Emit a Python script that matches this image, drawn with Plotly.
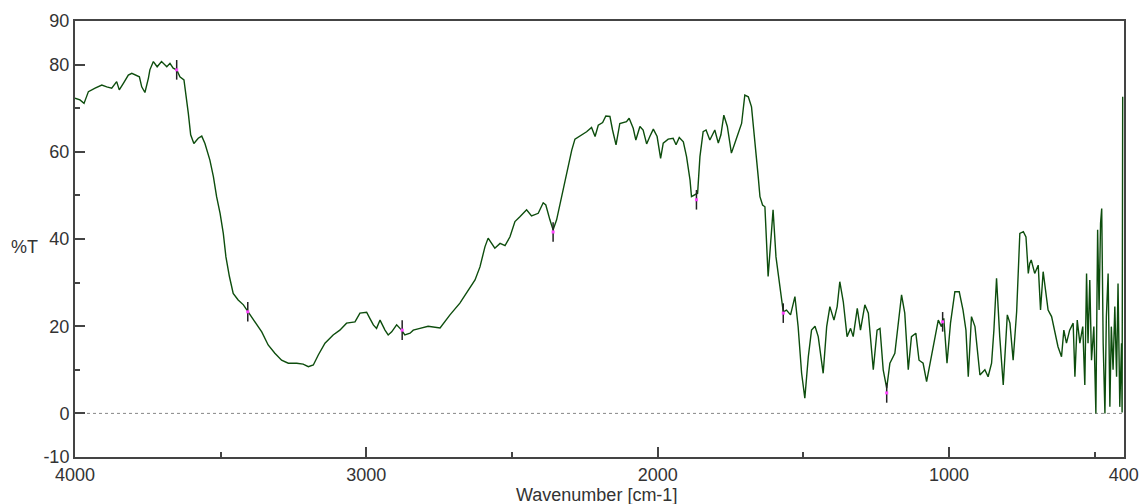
import plotly.graph_objects as go

# FTIR transmittance spectrum, read point by point (wavenumber in cm-1, %T)
wavenumber = [
    4000, 3983, 3969, 3954, 3931, 3908, 3891, 3874, 3857, 3848, 3834, 3817, 3805, 3794,
    3779, 3771, 3760, 3748, 3743, 3731, 3718, 3703, 3685, 3674, 3663, 3651, 3640, 3626,
    3619, 3611, 3603, 3592, 3577, 3565, 3554, 3537, 3525, 3514, 3502, 3491, 3482, 3470,
    3457, 3440, 3422, 3405, 3382, 3359, 3337, 3314, 3291, 3268, 3239, 3217, 3199, 3182,
    3165, 3142, 3114, 3091, 3068, 3039, 3022, 2999, 2988, 2976, 2965, 2953, 2936, 2925,
    2913, 2896, 2879, 2868, 2850, 2839, 2816, 2788, 2747, 2713, 2679, 2651, 2627, 2610,
    2593, 2582, 2559, 2541, 2524, 2507, 2490, 2473, 2450, 2433, 2410, 2393, 2384, 2370,
    2359, 2347, 2330, 2313, 2295, 2284, 2267, 2244, 2227, 2215, 2204, 2189, 2178, 2164,
    2155, 2143, 2130, 2116, 2107, 2098, 2084, 2075, 2061, 2050, 2038, 2027, 2015, 2002,
    1990, 1981, 1964, 1947, 1937, 1926, 1912, 1901, 1889, 1884, 1872, 1863, 1855, 1844,
    1834, 1821, 1804, 1792, 1783, 1773, 1761, 1747, 1735, 1720, 1712, 1701, 1689, 1678,
    1666, 1655, 1649, 1640, 1632, 1624, 1621, 1609, 1604, 1594, 1581, 1569, 1558, 1544,
    1529, 1518, 1506, 1495, 1483, 1472, 1460, 1449, 1432, 1420, 1409, 1395, 1384, 1375,
    1363, 1350, 1338, 1329, 1315, 1304, 1289, 1277, 1260, 1247, 1237, 1226, 1214, 1203,
    1186, 1175, 1163, 1152, 1140, 1129, 1114, 1103, 1089, 1077, 1063, 1049, 1037, 1026,
    1018, 1007, 995, 980, 965, 952, 942, 934, 923, 911, 894, 877, 866, 854,
    846, 837, 826, 814, 800, 791, 780, 768, 757, 745, 736, 728, 723, 718,
    706, 694, 686, 677, 668, 660, 648, 637, 626, 614, 606, 597, 586, 574,
    568, 560, 551, 541, 534, 528, 523, 517, 511, 503, 496, 490, 485, 480,
    476, 471, 465, 460, 454, 448, 443, 437, 431, 425, 420, 414, 408, 406,
    404,
]
transmittance = [
    72.3, 71.9, 71.1, 73.8, 74.6, 75.3, 74.9, 74.6, 76.1, 74.2, 75.7, 77.6, 78.0, 77.6,
    77.2, 74.9, 73.6, 76.9, 78.8, 80.7, 79.5, 80.7, 79.5, 80.3, 79.2, 78.8, 77.2, 76.5,
    73.4, 68.8, 63.9, 61.9, 63.1, 63.6, 61.9, 58.1, 54.3, 49.7, 45.9, 41.3, 35.9, 31.4,
    27.5, 26.0, 24.9, 23.3, 21.0, 18.7, 15.7, 13.8, 12.2, 11.5, 11.5, 11.3, 10.7, 11.1,
    13.4, 16.1, 18.0, 19.1, 20.7, 21.0, 23.0, 23.2, 21.8, 20.3, 19.5, 21.4, 19.1, 18.0,
    18.7, 20.3, 19.1, 18.0, 18.4, 19.1, 19.5, 20.0, 19.6, 22.6, 25.3, 28.3, 30.6, 33.6,
    38.2, 40.2, 37.9, 39.0, 38.5, 40.5, 44.0, 45.1, 46.7, 45.3, 45.9, 48.3, 47.8, 44.4,
    42.1, 44.4, 49.7, 55.1, 60.4, 62.9, 63.6, 64.6, 65.6, 63.5, 66.1, 66.7, 68.2, 68.1,
    65.0, 61.6, 66.5, 66.7, 66.9, 67.7, 65.4, 62.7, 65.8, 65.0, 61.8, 63.5, 65.2, 63.5,
    58.5, 62.0, 62.9, 63.1, 61.6, 63.3, 62.3, 58.9, 53.5, 49.7, 50.1, 50.5, 58.9, 64.6,
    65.0, 62.7, 65.0, 62.0, 63.9, 68.4, 65.8, 59.7, 62.0, 65.0, 66.5, 73.0, 72.6, 70.3,
    62.7, 54.3, 49.7, 47.8, 47.4, 35.9, 31.4, 42.1, 46.7, 35.9, 29.8, 23.3, 23.7, 22.6,
    26.8, 19.9, 9.2, 3.5, 13.0, 19.1, 20.0, 17.6, 9.2, 19.9, 24.5, 21.4, 24.5, 30.2,
    25.6, 17.6, 19.5, 17.6, 24.1, 19.1, 24.9, 23.0, 10.0, 19.1, 19.5, 10.0, 5.8, 11.5,
    13.8, 20.7, 27.2, 23.0, 10.0, 17.6, 18.4, 12.2, 11.5, 7.3, 12.2, 17.6, 21.4, 19.9,
    21.8, 11.5, 20.7, 27.9, 27.9, 23.7, 19.1, 8.4, 22.2, 19.9, 8.8, 10.0, 8.4, 11.5,
    19.1, 31.0, 17.6, 6.5, 22.6, 20.7, 12.2, 23.3, 41.3, 41.7, 40.5, 32.1, 34.4, 35.2,
    32.1, 34.0, 23.7, 32.5, 28.3, 23.7, 22.2, 18.4, 15.3, 13.0, 19.1, 16.1, 19.1, 20.7,
    8.4, 21.4, 16.1, 19.9, 6.5, 32.1, 16.1, 30.6, 12.2, 19.9, 0.0, 42.1, 23.7, 43.6,
    47.0, 16.1, 0.0, 22.2, 32.1, 1.5, 19.9, 10.0, 24.5, 8.4, 29.8, 1.5, 16.1, 0.2,
    72.6,
]

# picked peaks
peak_wn = [3651, 3407, 2877, 2359, 1867, 1569, 1214, 1022]
peak_t = [78.8, 23.3, 19.1, 41.6, 49.0, 23.0, 4.7, 21.0]

x_ticks = [4000, 3000, 2000, 1000, 400]
y_ticks = [-10, 0, 20, 40, 60, 80, 90]

font = dict(family="Arial, Liberation Sans, sans-serif", size=18, color="#333333")

fig = go.Figure()
fig.add_trace(go.Scatter(
    x=wavenumber, y=transmittance, mode="lines",
    line=dict(color="#0d4d0d", width=1.4),
    hoverinfo="skip", showlegend=False,
))
fig.add_trace(go.Scatter(
    x=peak_wn, y=peak_t, mode="markers",
    marker=dict(symbol="line-ns", size=14, line=dict(color="#222222", width=1.5)),
    hoverinfo="skip", showlegend=False,
))
fig.add_trace(go.Scatter(
    x=peak_wn, y=peak_t, mode="markers",
    marker=dict(symbol="square", size=3, color="#ff44ff"),
    hoverinfo="skip", showlegend=False,
))

# dotted baseline at 0 %T
fig.add_shape(type="line", xref="x", yref="y", x0=4000, x1=400, y0=0, y1=0,
              line=dict(color="#888888", width=1, dash="dot"), layer="below")

fig.update_layout(
    width=1139, height=504,
    margin=dict(l=75, r=15, t=21, b=47),
    paper_bgcolor="white", plot_bgcolor="white",
    font=font,
    xaxis=dict(
        range=[4000, 399.5], showgrid=False, zeroline=False, automargin=False,
        tickmode="array", tickvals=x_ticks, ticktext=[str(v) for v in x_ticks],
        ticks="inside", ticklen=10, tickwidth=1.5, tickcolor="#444444",
        minor=dict(tickvals=[3500, 2500, 1500, 500], ticks="inside", ticklen=5,
                   tickwidth=1.5, tickcolor="#444444"),
        showline=True, linecolor="#444444", linewidth=2, mirror=True,
        ticklabelstandoff=0, tickfont=font,
    ),
    yaxis=dict(
        range=[-10, 90], showgrid=False, zeroline=False, automargin=False,
        tickmode="array", tickvals=y_ticks, ticktext=[str(v) for v in y_ticks],
        ticks="inside", ticklen=10, tickwidth=1.5, tickcolor="#444444",
        minor=dict(tickvals=[10, 30, 50, 70], ticks="inside", ticklen=5,
                   tickwidth=1.5, tickcolor="#444444"),
        showline=True, linecolor="#444444", linewidth=2, mirror=True,
        tickfont=font,
    ),
    annotations=[
        dict(text="%T", xref="paper", yref="paper", x=-0.0477, y=0.4817,
             xanchor="center", yanchor="middle", showarrow=False, font=font),
        dict(text="Wavenumber [cm-1]", xref="paper", yref="paper", x=0.4967, y=-0.088,
             xanchor="center", yanchor="middle", showarrow=False, font=font),
    ],
)

fig.write_html("out.html")
